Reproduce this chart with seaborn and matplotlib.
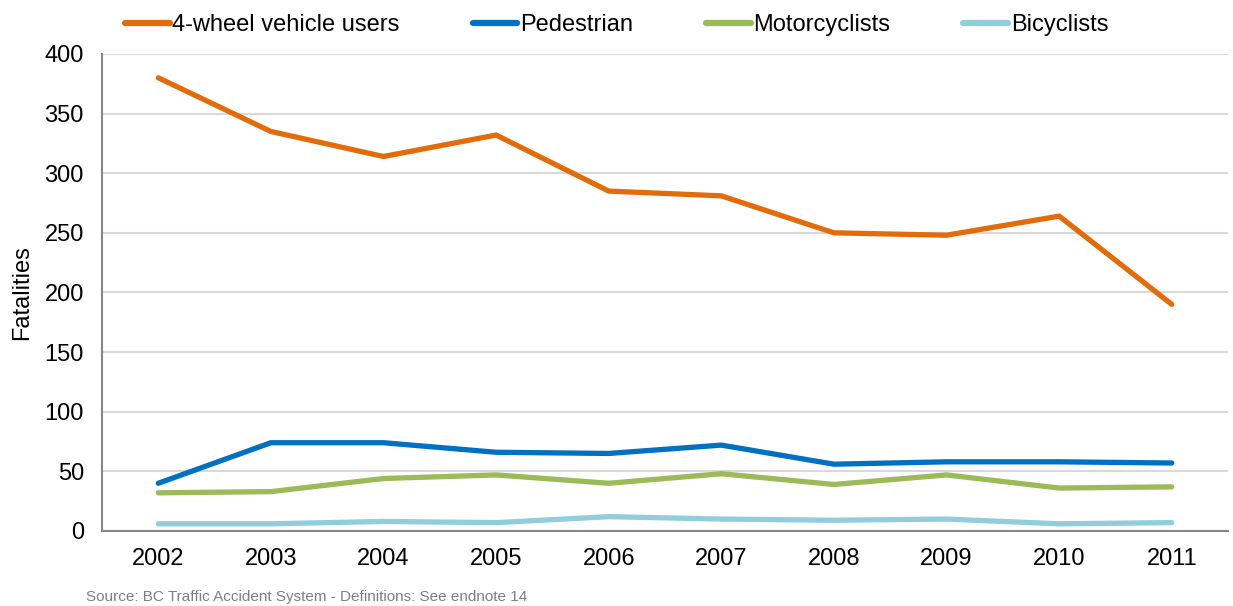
import matplotlib
matplotlib.use("Agg")
import matplotlib.pyplot as plt
import numpy as np
import pandas as pd
import seaborn as sns

years = ["2002", "2003", "2004", "2005", "2006", "2007", "2008", "2009", "2010", "2011"]
four_wheel = [380, 335, 314, 332, 285, 281, 250, 248, 264, 190]
pedestrian = [40, 74, 74, 66, 65, 72, 56, 58, 58, 57]
motorcyclists = [32, 33, 44, 47, 40, 48, 39, 47, 36, 37]
bicyclists = [6, 6, 8, 7, 12, 10, 9, 10, 6, 7]

series_names = ["4-wheel vehicle users", "Pedestrian", "Motorcyclists", "Bicyclists"]
colors = ["#E36C0A", "#0070C0", "#9BBB59", "#92CDDC"]

df = pd.DataFrame({
    "Year": years * 4,
    "Fatalities": four_wheel + pedestrian + motorcyclists + bicyclists,
    "Group": [name for name in series_names for _ in years],
})

sns.set_style("white")
plt.rcParams["font.family"] = ["Liberation Sans Narrow", "Liberation Sans", "DejaVu Sans"]
plt.rcParams["text.color"] = "black"
plt.rcParams["axes.labelcolor"] = "black"
plt.rcParams["xtick.labelcolor"] = "black"
plt.rcParams["ytick.labelcolor"] = "black"

fig = plt.figure(figsize=(12.33, 6.06), dpi=100)
ax = fig.add_axes([0.0827, 0.1238, 0.9133, 0.7872])

sns.lineplot(
    data=df, x="Year", y="Fatalities", hue="Group",
    hue_order=series_names, palette=colors,
    linewidth=3.8, ax=ax, legend=True, sort=False,
)
for line in ax.lines:
    line.set_solid_capstyle("round")

ax.set_xlim(-0.5, len(years) - 0.5)
ax.set_ylim(0, 400)
ax.set_yticks(np.arange(0, 401, 50))
ax.yaxis.grid(True, color="#D9D9D9", linewidth=1.5)
ax.set_axisbelow(True)

ax.set_xticks(range(len(years)))
ax.set_xticklabels(years)
ax.set_xticks(np.arange(-0.5, len(years), 1.0), minor=True)
ax.tick_params(axis="x", which="major", length=0, pad=12, labelsize=17)
ax.tick_params(axis="x", which="minor", length=7, width=1.5, color="#868686", direction="out")
ax.tick_params(axis="y", length=7, width=1.5, color="#868686", direction="out", labelsize=17, pad=6)

for side in ["top", "right"]:
    ax.spines[side].set_visible(False)
for side in ["left", "bottom"]:
    ax.spines[side].set_color("#868686")
    ax.spines[side].set_linewidth(1.5)

ax.set_xlabel("")
ax.set_ylabel("Fatalities", fontsize=17, labelpad=8)

handles, labels = ax.get_legend_handles_labels()
for h in handles:
    h.set_linewidth(4.5)
    h.set_solid_capstyle("round")
fig.legend(
    handles, labels, loc="center", bbox_to_anchor=(0.5, 0.958), ncol=4,
    frameon=False, fontsize=17, handlelength=1.9, handletextpad=0.1,
    columnspacing=3.1,
)
ax.get_legend().remove()

fig.text(0.07, 0.003, "Source: BC Traffic Accident System - Definitions: See endnote 14",
         fontsize=11, color="#7F7F7F", ha="left", va="bottom")

fig.savefig("out.png", dpi=100)
plt.close(fig)
